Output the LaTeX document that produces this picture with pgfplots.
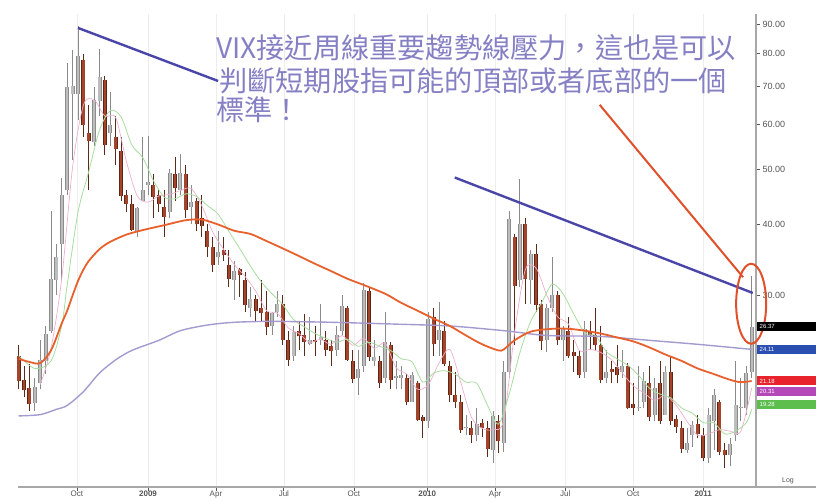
\documentclass[border=0pt]{standalone}
\usepackage{fontspec}
\setmainfont{Liberation Sans}
\newfontfamily\cjk{Noto Sans CJK TC}
\usepackage{pgfplots}
\usepackage{pgfplotstable}
\pgfplotsset{compat=1.18}

\definecolor{upwick}{HTML}{8A8A8A}
\definecolor{upedge}{HTML}{8C8C8C}
\definecolor{upfill}{HTML}{BDBDBD}
\definecolor{dnwick}{HTML}{5A2A1A}
\definecolor{dnedge}{HTML}{5E2414}
\definecolor{dnfill}{HTML}{A4442A}
\definecolor{ma50}{HTML}{E8602C}
\definecolor{ma200}{HTML}{A49AD0}
\definecolor{ma10}{HTML}{A8DCA0}
\definecolor{ma5}{HTML}{EDB0CC}
\definecolor{trendcol}{HTML}{4A46A8}
\definecolor{notecol}{HTML}{8580C4}
\definecolor{redmark}{HTML}{E0502A}
\definecolor{axisgray}{HTML}{A8A8A8}
\definecolor{ticktext}{HTML}{555555}
\definecolor{boxblue}{HTML}{2B4FB0}
\definecolor{boxred}{HTML}{E8232B}
\definecolor{boxpurple}{HTML}{B548B8}
\definecolor{boxgreen}{HTML}{5DBE4E}

\tikzset{valbox/.style={anchor=west, minimum width=60pt, minimum height=9pt, inner sep=0pt,
    text=white, font=\fontsize{6}{6}\selectfont, align=left, text width=56pt}}
\pgfplotsset{candle/.style={draw=none, mark=none, forget plot,
    error bars/.cd, y dir=plus, y explicit, error mark=none,
    error bar style={#1}}}

% weekly VIX candles, Aug 2008 - Mar 2011 (week index i)
\pgfplotstableread{
i o h l c
3 19.4 21.5 18.8 20.7
4 21.0 25.0 20.5 23.1
5 23.0 26.5 21.8 25.7
6 26.0 42.2 25.8 32.1
7 32.0 37.0 30.0 35.0
8 37.0 48.4 32.0 45.1
9 46.0 76.9 45.0 69.9
10 68.0 81.2 52.0 70.3
11 68.0 89.5 61.0 79.1
14 56.0 70.0 55.0 66.3
15 66.0 81.5 62.0 72.7
17 58.0 68.5 55.0 59.9
22 39.0 43.0 38.0 42.8
23 44.0 57.0 44.0 46.1
24 47.0 57.3 45.0 47.6
28 42.0 50.0 41.0 49.3
30 46.0 53.3 45.0 49.3
32 43.0 47.0 40.0 43.9
37 35.0 39.0 34.0 35.8
40 32.0 34.5 29.5 33.1
43 28.5 31.0 27.5 29.6
47 26.5 28.0 25.5 27.9
48 28.0 30.5 27.5 29.0
51 23.5 26.5 23.0 25.9
54 24.6 27.5 24.5 25.0
56 25.0 29.0 24.5 25.3
59 24.0 26.5 23.5 25.6
60 26.0 30.0 25.5 28.7
63 21.5 24.0 20.0 22.3
64 22.5 31.5 22.0 30.7
66 23.0 25.0 22.5 23.4
68 21.5 28.0 21.0 24.8
70 21.5 23.0 20.5 21.6
71 21.5 22.5 20.5 21.7
73 19.5 22.0 19.5 21.7
76 18.0 28.0 17.5 27.3
78 25.0 29.2 23.5 26.1
83 17.5 18.5 17.0 17.6
85 17.0 19.0 16.6 17.8
88 16.0 18.8 15.2 18.4
90 16.5 23.0 15.9 22.0
91 22.0 42.2 21.5 40.9
93 32.0 48.2 31.0 40.1
95 32.0 36.0 29.0 35.5
98 25.0 29.0 23.8 28.5
99 28.5 35.0 28.0 30.1
101 25.0 26.5 23.0 26.2
105 22.0 27.0 21.5 26.2
109 21.5 24.0 21.0 22.0
112 22.0 24.0 21.5 22.5
115 19.0 22.5 18.8 19.1
116 19.5 22.0 19.0 21.2
118 18.5 21.5 18.0 20.6
120 18.5 22.5 18.5 22.0
124 16.0 17.5 15.8 16.5
125 17.0 18.0 16.2 17.75
128 15.5 19.0 15.2 18.5
129 18.0 20.5 16.0 20.0
132 15.7 16.8 15.0 16.4
133 17.0 23.0 16.6 19.2
134 19.0 21.5 18.0 19.1
135 19.0 22.5 18.5 21.9
136 22.0 32.5 21.5 26.4
}\vixup

\pgfplotstableread{
i o h l c
0 23.5 24.5 20.5 21.2
1 21.3 22.5 19.9 20.4
2 20.6 22.7 18.8 19.3
12 78.0 80.0 57.0 59.9
13 58.0 65.0 46.0 56.1
16 72.0 73.0 53.0 55.3
18 57.0 62.0 51.0 54.3
19 54.0 57.0 44.0 44.9
20 45.0 46.0 42.0 43.4
21 43.5 45.0 39.0 39.2
25 47.0 49.0 41.0 44.8
26 45.0 46.0 42.0 43.4
27 43.0 46.0 38.0 41.2
29 49.0 52.5 44.0 46.4
31 49.0 51.0 41.0 42.4
33 44.0 44.5 39.0 40.0
34 41.0 45.0 38.0 39.7
35 39.0 40.0 35.0 36.5
36 36.5 38.0 33.0 33.9
38 36.0 38.0 34.5 35.3
39 34.0 36.0 31.0 32.1
41 33.4 33.5 29.8 32.6
42 32.0 33.0 28.0 28.9
44 29.6 30.0 27.0 28.2
45 28.5 32.0 27.0 27.9
46 28.0 30.5 25.5 26.4
49 29.0 30.0 24.5 25.0
50 25.0 26.0 22.5 23.1
52 26.0 27.0 24.0 25.4
53 25.5 27.8 23.5 24.8
55 25.0 26.5 23.5 24.8
57 25.0 26.0 23.5 24.0
58 24.4 25.0 22.5 23.9
61 28.5 28.7 23.0 23.1
62 23.0 24.0 21.0 21.4
65 30.5 31.0 23.0 23.4
67 23.0 23.5 20.6 21.0
69 24.5 24.8 20.5 21.3
72 21.5 21.8 19.2 19.5
74 21.0 21.2 18.0 18.1
75 18.3 18.5 16.8 18.0
77 27.5 28.5 23.5 24.6
79 26.0 27.0 22.5 22.7
80 22.5 23.0 19.5 20.0
81 20.0 22.0 19.0 19.5
82 19.5 20.0 17.2 17.4
84 17.5 18.0 16.5 17.0
86 17.9 18.2 16.9 17.5
87 17.5 18.0 15.6 16.1
89 18.0 18.5 15.8 16.6
92 38.0 38.5 24.5 31.2
94 40.0 41.0 29.0 32.1
96 35.5 37.0 28.0 28.8
97 29.0 29.5 24.0 24.9
100 30.0 30.5 24.5 25.0
102 26.0 27.5 23.3 23.5
103 23.8 25.0 22.0 23.5
104 23.5 24.0 21.5 21.7
106 26.0 27.0 24.0 25.5
107 25.5 28.5 24.0 24.5
108 24.5 26.5 21.0 21.3
110 22.3 23.0 21.0 22.0
111 22.4 24.5 21.0 21.7
113 22.5 22.8 18.9 19.0
114 19.3 21.0 18.5 19.0
117 21.0 22.5 18.0 18.3
119 21.0 23.0 17.8 18.0
121 22.0 23.5 17.7 18.0
122 18.2 18.5 17.2 17.6
123 17.5 18.0 15.8 16.1
126 17.8 18.5 16.8 17.1
127 17.0 17.5 15.3 15.5
130 19.5 19.6 15.7 15.9
131 16.0 16.5 14.9 15.7
}\vixdn

\begin{document}
\begin{tikzpicture}
\path[use as bounding box] (0,0) rectangle (816pt,501pt);
\begin{axis}[
    at={(18pt,14pt)}, anchor=south west,
    scale only axis, width=738pt, height=473pt,
    clip=false,
    xmin=-0.13, xmax=136.8,
    ymode=log, ymin=13.79, ymax=93.96,
    axis x line*=bottom, axis y line*=right,
    axis line style={draw=axisgray, line width=1.6pt},
    tick align=outside, major tick length=4pt,
    tick style={draw=ticktext, line width=0.8pt},
    ytick={30,40,50,60,70,80,90},
    yticklabels={30.00,40.00,50.00,60.00,70.00,80.00,90.00},
    xtick={10.8,24,36.6,49.2,62.2,75.8,88.4,101.4,114,127},
    xticklabels={Oct,\textbf{2009},Apr,Jul,Oct,\textbf{2010},Apr,Jul,Oct,\textbf{2011}},
    ticklabel style={font=\fontsize{9}{10}\selectfont, text=ticktext},
    yticklabel style={xshift=-1pt},
    xticklabel style={font=\fontsize{8}{9}\selectfont, inner sep=1pt, yshift=1pt},
    xmajorgrids, major grid style={draw=gray!14, line width=0.6pt},
    yminorticks=false,
]
% wicks
\addplot[candle={draw=upwick, line width=0.9pt}]
    table[x=i, y=l, y error expr=\thisrow{h}-\thisrow{l}] {\vixup};
\addplot[candle={draw=dnwick, line width=0.9pt}]
    table[x=i, y=l, y error expr=\thisrow{h}-\thisrow{l}] {\vixdn};
% bodies
\addplot[candle={draw=upedge, line width=4.0pt}]
    table[x=i, y=o, y error expr=\thisrow{c}-\thisrow{o}] {\vixup};
\addplot[candle={draw=upfill, line width=2.2pt}]
    table[x=i, y=o, y error expr=\thisrow{c}-\thisrow{o}] {\vixup};
\addplot[candle={draw=dnedge, line width=4.0pt}]
    table[x=i, y=c, y error expr=\thisrow{o}-\thisrow{c}] {\vixdn};
\addplot[candle={draw=dnfill, line width=2.6pt}]
    table[x=i, y=c, y error expr=\thisrow{o}-\thisrow{c}] {\vixdn};

% 5-week average
\addplot[ma5, line width=0.7pt, smooth] coordinates {
(4,20.9)(6,24.2)(8,32.2)(10,50.5)(12,64.9)(14,66.3)(16,62.1)(18,61.7)(20,51.6)(22,44.9)
(24,43.8)(26,44.9)(28,45.2)(30,45.9)(32,46.3)(34,43.1)(36,38.8)(38,36.2)(40,34.0)(42,32.4)
(44,30.5)(46,28.2)(48,27.9)(50,26.3)(52,25.7)(54,24.8)(56,25.1)(58,24.6)(60,25.5)(62,24.5)
(64,25.2)(66,24.2)(68,24.7)(70,22.4)(72,21.8)(74,20.5)(76,20.9)(78,22.8)(80,24.1)(82,21.1)
(84,18.3)(86,17.5)(88,17.4)(90,18.1)(92,25.8)(94,33.3)(96,33.5)(98,30.0)(100,27.5)(102,26.7)
(104,24.0)(106,24.1)(108,23.8)(110,23.1)(112,21.9)(114,20.8)(116,20.2)(118,19.6)(120,20.0)
(122,19.2)(124,18.0)(126,17.0)(128,17.1)(130,17.4)(132,17.3)(134,17.3)(136,20.6)};
% 10-week average
\addplot[ma10, line width=0.8pt, smooth] coordinates {
(0,23.5)(3,22.3)(6,23.0)(8,26.6)(9,31.3)(11,42.0)(13,49.6)(15,58.7)(17,63.5)(19,61.9)
(21,55.2)(23,52.5)(25,47.8)(27,44.7)(29,44.4)(31,45.3)(33,44.8)(35,43.2)(37,41.7)(39,38.9)
(41,36.3)(43,33.8)(45,31.7)(47,30.2)(49,28.9)(51,27.2)(53,26.4)(55,25.7)(57,25.2)(59,24.8)
(61,25.1)(63,24.4)(65,24.8)(67,24.4)(69,24.0)(71,23.2)(73,22.9)(75,21.1)(77,21.9)(79,22.1)
(81,21.8)(83,21.1)(85,21.0)(87,19.2)(89,17.8)(91,20.1)(93,23.8)(95,27.0)(97,29.1)(99,31.4)
(101,30.2)(103,27.8)(105,25.8)(107,25.5)(109,23.9)(111,23.2)(113,22.6)(115,21.7)(117,20.6)
(119,20.1)(121,19.8)(123,19.0)(125,18.6)(127,17.9)(129,17.9)(131,17.1)(133,17.3)(135,17.9)(136,18.9)};
% 200-week average
\addplot[ma200, line width=1.4pt, smooth] coordinates {
(0,18.4)(4,18.5)(7,18.9)(9,19.2)(12,20.3)(15,21.9)(18,23.1)(21,24.0)(26,25.0)(30,26.0)
(35,26.6)(40,26.9)(47,27.0)(58,26.9)(70,26.7)(80,26.5)(90,26.0)(98,25.5)(108,25.4)
(117,25.0)(126,24.6)(136,24.1)};
% 50-week average
\addplot[ma50, line width=1.8pt, smooth] coordinates {
(0,23.2)(2,22.9)(4,22.8)(6,24.0)(8,26.8)(9,28.2)(10,30.0)(11,31.8)(12,33.3)(13,34.5)
(15,36.2)(17,37.3)(20,38.4)(23,39.1)(27,39.9)(31,40.7)(34,40.8)(37,40.0)(40,39.0)(43,38.5)
(46,37.4)(49,36.3)(52,35.2)(55,34.1)(58,33.1)(61,32.1)(64,31.3)(68,30.2)(71,29.1)(74,28.2)
(77,27.3)(80,26.5)(83,25.5)(86,24.6)(89,24.0)(90,24.1)(92,25.0)(95,25.9)(99,26.2)(102,26.2)
(105,26.0)(108,25.7)(111,25.3)(114,24.9)(117,24.3)(120,23.6)(123,23.0)(126,22.3)(129,21.8)
(132,21.3)(134,21.1)(136,21.2)};

% hand-drawn trend lines and marks
\draw[trendcol, line width=2.4pt] (axis cs:11.0,88.8) -- (axis cs:37.0,71.6);
\draw[trendcol, line width=2.4pt] (axis cs:80.9,48.4) -- (axis cs:136.2,30.3);
\draw[redmark, line width=2pt] (axis cs:107.8,65.0) -- (axis cs:134.4,32.3);
\draw[redmark, line width=2pt] (axis cs:135.9,29.0) ellipse [x radius=15pt, y radius=40pt];

\node[anchor=west, inner sep=0pt, text=notecol] at (axis cs:36.6,81.8)
    {\cjk\fontsize{28.2}{31}\selectfont VIX接近周線重要趨勢線壓力，這也是可以};
\node[anchor=west, inner sep=0pt, text=notecol] at (axis cs:37.2,71.6)
    {\cjk\fontsize{28.2}{31}\selectfont 判斷短期股指可能的頂部或者底部的一個};
\node[anchor=west, inner sep=0pt, text=notecol] at (axis cs:36.6,63.6)
    {\cjk\fontsize{28.2}{31}\selectfont 標準！};

% last-value boxes on the right axis
\node[valbox, fill=black] at (axis cs:136.9,26.4) {\,26.37};
\node[valbox, fill=boxblue] at (axis cs:136.9,24.1) {\,24.11};
\node[valbox, fill=boxred] at (axis cs:136.9,21.2) {\,21.18};
\node[valbox, fill=boxpurple] at (axis cs:136.9,20.3) {\,20.31};
\node[valbox, fill=boxgreen] at (axis cs:136.9,19.3) {\,19.28};
\node[anchor=west, text=ticktext, font=\fontsize{7}{7}\selectfont, inner sep=0pt]
    at (axis cs:136.8,14.15) {\hspace{26pt}Log};
\draw[axisgray, line width=1.6pt] (axis cs:136.8,13.79) -- (axis cs:148,13.79);
\end{axis}
\end{tikzpicture}
\end{document}
